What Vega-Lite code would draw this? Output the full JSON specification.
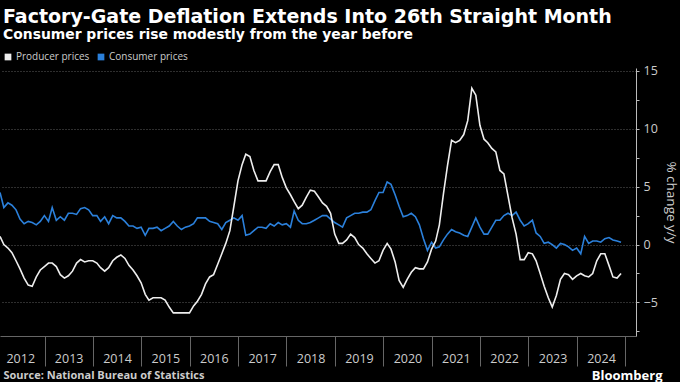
{
"$schema": "https://vega.github.io/schema/vega-lite/v6.json",
"width": 636, "height": 268,
"autosize": {"type": "none"},
"padding": {"left": 0, "top": 68, "right": 44, "bottom": 46},
"background": "#000000",
"title": {"text": "Factory-Gate Deflation Extends Into 26th Straight Month", "subtitle": "Consumer prices rise modestly from the year before", "anchor": "start", "frame": "group", "offset": 10, "dx": 3, "color": "#ffffff", "subtitleColor": "#ffffff", "font": "DejaVu Sans", "fontSize": 19, "fontWeight": "bold", "subtitleFont": "DejaVu Sans", "subtitleFontSize": 13.9, "subtitleFontWeight": "bold", "subtitlePadding": 1},
"data": {"values": [
{"d":"2012-01-31","ppi":0.7,"cpi":4.5},{"d":"2012-02-29","ppi":0.0,"cpi":3.2},{"d":"2012-03-31","ppi":-0.3,"cpi":3.6},{"d":"2012-04-30","ppi":-0.7,"cpi":3.4},{"d":"2012-05-31","ppi":-1.4,"cpi":3.0},{"d":"2012-06-30","ppi":-2.1,"cpi":2.2},{"d":"2012-07-31","ppi":-2.9,"cpi":1.8},{"d":"2012-08-31","ppi":-3.5,"cpi":2.0},{"d":"2012-09-30","ppi":-3.6,"cpi":1.9},{"d":"2012-10-31","ppi":-2.8,"cpi":1.7},{"d":"2012-11-30","ppi":-2.2,"cpi":2.0},{"d":"2012-12-31","ppi":-1.9,"cpi":2.5},
{"d":"2013-01-31","ppi":-1.6,"cpi":2.0},{"d":"2013-02-28","ppi":-1.6,"cpi":3.2},{"d":"2013-03-31","ppi":-1.9,"cpi":2.1},{"d":"2013-04-30","ppi":-2.6,"cpi":2.4},{"d":"2013-05-31","ppi":-2.9,"cpi":2.1},{"d":"2013-06-30","ppi":-2.7,"cpi":2.7},{"d":"2013-07-31","ppi":-2.3,"cpi":2.7},{"d":"2013-08-31","ppi":-1.6,"cpi":2.6},{"d":"2013-09-30","ppi":-1.3,"cpi":3.1},{"d":"2013-10-31","ppi":-1.5,"cpi":3.2},{"d":"2013-11-30","ppi":-1.4,"cpi":3.0},{"d":"2013-12-31","ppi":-1.4,"cpi":2.5},
{"d":"2014-01-31","ppi":-1.6,"cpi":2.5},{"d":"2014-02-28","ppi":-2.0,"cpi":2.0},{"d":"2014-03-31","ppi":-2.3,"cpi":2.4},{"d":"2014-04-30","ppi":-2.0,"cpi":1.8},{"d":"2014-05-31","ppi":-1.4,"cpi":2.5},{"d":"2014-06-30","ppi":-1.1,"cpi":2.3},{"d":"2014-07-31","ppi":-0.9,"cpi":2.3},{"d":"2014-08-31","ppi":-1.2,"cpi":2.0},{"d":"2014-09-30","ppi":-1.8,"cpi":1.6},{"d":"2014-10-31","ppi":-2.2,"cpi":1.6},{"d":"2014-11-30","ppi":-2.7,"cpi":1.4},{"d":"2014-12-31","ppi":-3.3,"cpi":1.5},
{"d":"2015-01-31","ppi":-4.3,"cpi":0.8},{"d":"2015-02-28","ppi":-4.8,"cpi":1.4},{"d":"2015-03-31","ppi":-4.6,"cpi":1.4},{"d":"2015-04-30","ppi":-4.6,"cpi":1.5},{"d":"2015-05-31","ppi":-4.6,"cpi":1.2},{"d":"2015-06-30","ppi":-4.8,"cpi":1.4},{"d":"2015-07-31","ppi":-5.4,"cpi":1.6},{"d":"2015-08-31","ppi":-5.9,"cpi":2.0},{"d":"2015-09-30","ppi":-5.9,"cpi":1.6},{"d":"2015-10-31","ppi":-5.9,"cpi":1.3},{"d":"2015-11-30","ppi":-5.9,"cpi":1.5},{"d":"2015-12-31","ppi":-5.9,"cpi":1.6},
{"d":"2016-01-31","ppi":-5.3,"cpi":1.8},{"d":"2016-02-29","ppi":-4.9,"cpi":2.3},{"d":"2016-03-31","ppi":-4.3,"cpi":2.3},{"d":"2016-04-30","ppi":-3.4,"cpi":2.3},{"d":"2016-05-31","ppi":-2.8,"cpi":2.0},{"d":"2016-06-30","ppi":-2.6,"cpi":1.9},{"d":"2016-07-31","ppi":-1.7,"cpi":1.8},{"d":"2016-08-31","ppi":-0.8,"cpi":1.3},{"d":"2016-09-30","ppi":0.1,"cpi":1.9},{"d":"2016-10-31","ppi":1.2,"cpi":2.1},{"d":"2016-11-30","ppi":3.3,"cpi":2.3},{"d":"2016-12-31","ppi":5.5,"cpi":2.1},
{"d":"2017-01-31","ppi":6.9,"cpi":2.5},{"d":"2017-02-28","ppi":7.8,"cpi":0.8},{"d":"2017-03-31","ppi":7.6,"cpi":0.9},{"d":"2017-04-30","ppi":6.4,"cpi":1.2},{"d":"2017-05-31","ppi":5.5,"cpi":1.5},{"d":"2017-06-30","ppi":5.5,"cpi":1.5},{"d":"2017-07-31","ppi":5.5,"cpi":1.4},{"d":"2017-08-31","ppi":6.3,"cpi":1.8},{"d":"2017-09-30","ppi":6.9,"cpi":1.6},{"d":"2017-10-31","ppi":6.9,"cpi":1.9},{"d":"2017-11-30","ppi":5.8,"cpi":1.7},{"d":"2017-12-31","ppi":4.9,"cpi":1.8},
{"d":"2018-01-31","ppi":4.3,"cpi":1.5},{"d":"2018-02-28","ppi":3.7,"cpi":2.9},{"d":"2018-03-31","ppi":3.1,"cpi":2.1},{"d":"2018-04-30","ppi":3.4,"cpi":1.8},{"d":"2018-05-31","ppi":4.1,"cpi":1.8},{"d":"2018-06-30","ppi":4.7,"cpi":1.9},{"d":"2018-07-31","ppi":4.6,"cpi":2.1},{"d":"2018-08-31","ppi":4.1,"cpi":2.3},{"d":"2018-09-30","ppi":3.6,"cpi":2.5},{"d":"2018-10-31","ppi":3.3,"cpi":2.5},{"d":"2018-11-30","ppi":2.7,"cpi":2.2},{"d":"2018-12-31","ppi":0.9,"cpi":1.9},
{"d":"2019-01-31","ppi":0.1,"cpi":1.7},{"d":"2019-02-28","ppi":0.1,"cpi":1.5},{"d":"2019-03-31","ppi":0.4,"cpi":2.3},{"d":"2019-04-30","ppi":0.9,"cpi":2.5},{"d":"2019-05-31","ppi":0.6,"cpi":2.7},{"d":"2019-06-30","ppi":0.0,"cpi":2.7},{"d":"2019-07-31","ppi":-0.3,"cpi":2.8},{"d":"2019-08-31","ppi":-0.8,"cpi":2.8},{"d":"2019-09-30","ppi":-1.2,"cpi":3.0},{"d":"2019-10-31","ppi":-1.6,"cpi":3.8},{"d":"2019-11-30","ppi":-1.4,"cpi":4.5},{"d":"2019-12-31","ppi":-0.5,"cpi":4.5},
{"d":"2020-01-31","ppi":0.1,"cpi":5.4},{"d":"2020-02-29","ppi":-0.4,"cpi":5.2},{"d":"2020-03-31","ppi":-1.5,"cpi":4.3},{"d":"2020-04-30","ppi":-3.1,"cpi":3.3},{"d":"2020-05-31","ppi":-3.7,"cpi":2.4},{"d":"2020-06-30","ppi":-3.0,"cpi":2.5},{"d":"2020-07-31","ppi":-2.4,"cpi":2.7},{"d":"2020-08-31","ppi":-2.0,"cpi":2.4},{"d":"2020-09-30","ppi":-2.1,"cpi":1.7},{"d":"2020-10-31","ppi":-2.1,"cpi":0.5},{"d":"2020-11-30","ppi":-1.5,"cpi":-0.5},{"d":"2020-12-31","ppi":-0.4,"cpi":0.2},
{"d":"2021-01-31","ppi":0.3,"cpi":-0.3},{"d":"2021-02-28","ppi":1.7,"cpi":-0.2},{"d":"2021-03-31","ppi":4.4,"cpi":0.4},{"d":"2021-04-30","ppi":6.8,"cpi":0.9},{"d":"2021-05-31","ppi":9.0,"cpi":1.3},{"d":"2021-06-30","ppi":8.8,"cpi":1.1},{"d":"2021-07-31","ppi":9.0,"cpi":1.0},{"d":"2021-08-31","ppi":9.5,"cpi":0.8},{"d":"2021-09-30","ppi":10.7,"cpi":0.7},{"d":"2021-10-31","ppi":13.5,"cpi":1.5},{"d":"2021-11-30","ppi":12.9,"cpi":2.3},{"d":"2021-12-31","ppi":10.3,"cpi":1.5},
{"d":"2022-01-31","ppi":9.1,"cpi":0.9},{"d":"2022-02-28","ppi":8.8,"cpi":0.9},{"d":"2022-03-31","ppi":8.3,"cpi":1.5},{"d":"2022-04-30","ppi":8.0,"cpi":2.1},{"d":"2022-05-31","ppi":6.4,"cpi":2.1},{"d":"2022-06-30","ppi":6.1,"cpi":2.5},{"d":"2022-07-31","ppi":4.2,"cpi":2.7},{"d":"2022-08-31","ppi":2.3,"cpi":2.5},{"d":"2022-09-30","ppi":0.9,"cpi":2.8},{"d":"2022-10-31","ppi":-1.3,"cpi":2.1},{"d":"2022-11-30","ppi":-1.3,"cpi":1.6},{"d":"2022-12-31","ppi":-0.7,"cpi":1.8},
{"d":"2023-01-31","ppi":-0.8,"cpi":2.1},{"d":"2023-02-28","ppi":-1.4,"cpi":1.0},{"d":"2023-03-31","ppi":-2.5,"cpi":0.7},{"d":"2023-04-30","ppi":-3.6,"cpi":0.1},{"d":"2023-05-31","ppi":-4.6,"cpi":0.2},{"d":"2023-06-30","ppi":-5.4,"cpi":0.0},{"d":"2023-07-31","ppi":-4.4,"cpi":-0.3},{"d":"2023-08-31","ppi":-3.0,"cpi":0.1},{"d":"2023-09-30","ppi":-2.5,"cpi":0.0},{"d":"2023-10-31","ppi":-2.6,"cpi":-0.2},{"d":"2023-11-30","ppi":-3.0,"cpi":-0.5},{"d":"2023-12-31","ppi":-2.7,"cpi":-0.3},
{"d":"2024-01-31","ppi":-2.5,"cpi":-0.8},{"d":"2024-02-29","ppi":-2.7,"cpi":0.7},{"d":"2024-03-31","ppi":-2.8,"cpi":0.1},{"d":"2024-04-30","ppi":-2.5,"cpi":0.3},{"d":"2024-05-31","ppi":-1.4,"cpi":0.3},{"d":"2024-06-30","ppi":-0.8,"cpi":0.2},{"d":"2024-07-31","ppi":-0.8,"cpi":0.5},{"d":"2024-08-31","ppi":-1.8,"cpi":0.6},{"d":"2024-09-30","ppi":-2.8,"cpi":0.4},{"d":"2024-10-31","ppi":-2.9,"cpi":0.3},{"d":"2024-11-30","ppi":-2.5,"cpi":0.2}
]},
"layer": [
{"mark": {"type": "line", "strokeWidth": 1.6},
 "encoding": {
  "x": {"field": "d", "type": "temporal",
   "scale": {"type": "utc", "domain": [{"year": 2012, "month": 1, "date": 31, "utc": true}, {"year": 2025, "month": 3, "date": 23, "utc": true}]},
   "axis": {"orient": "bottom", "values": [{"year": 2012, "month": 7, "date": 2, "utc": true}, {"year": 2013, "month": 7, "date": 2, "utc": true}, {"year": 2014, "month": 7, "date": 2, "utc": true}, {"year": 2015, "month": 7, "date": 2, "utc": true}, {"year": 2016, "month": 7, "date": 2, "utc": true}, {"year": 2017, "month": 7, "date": 2, "utc": true}, {"year": 2018, "month": 7, "date": 2, "utc": true}, {"year": 2019, "month": 7, "date": 2, "utc": true}, {"year": 2020, "month": 7, "date": 2, "utc": true}, {"year": 2021, "month": 7, "date": 2, "utc": true}, {"year": 2022, "month": 7, "date": 2, "utc": true}, {"year": 2023, "month": 7, "date": 2, "utc": true}, {"year": 2024, "month": 7, "date": 2, "utc": true}],
     "labelExpr": "utcFormat(datum.value, '%Y')", "labelAlign": "center", "labelFlush": false, "labelOverlap": false, "labelBound": false, "labelPadding": 16, "labelColor": "#cccccc", "labelFont": "Open Sans", "labelFontSize": 12.5,
     "ticks": false, "domain": false, "grid": false,
     "title": "Bloomberg", "titleX": 662, "titleY": 43, "titleAlign": "right", "titleBaseline": "alphabetic", "titleColor": "#ffffff", "titleFont": "Open Sans", "titleFontSize": 13, "titleFontWeight": "bold"}},
  "y": {"field": "cpi", "type": "quantitative",
   "scale": {"domain": [-7.9, 15.25], "nice": false, "zero": false},
   "axis": {"orient": "right", "title": "% change y/y", "values": [-7.5, -5, -2.5, 0, 2.5, 5, 7.5, 10, 12.5, 15], "labelExpr": "datum.value % 5 == 0 ? datum.label : ''", "grid": true, "gridColor": "#5c5c5c", "gridDash": [1, 2], "gridOpacity": {"condition": {"test": "datum.value % 5 != 0", "value": 0}, "value": 1}, "domainColor": "#bbbbbb", "tickColor": "#bbbbbb", "tickSize": 3, "labelColor": "#cccccc", "labelFont": "Open Sans", "labelFontSize": 12.5, "labelPadding": 4, "titleColor": "#cccccc", "titleFont": "Open Sans", "titleFontSize": 13.5, "titleFontWeight": "normal", "titlePadding": 6}},
  "color": {"datum": "Consumer prices", "type": "nominal",
   "scale": {"domain": ["Producer prices", "Consumer prices"], "range": ["#eeeeee", "#2b80db"]},
   "legend": {"orient": "none", "legendX": 3, "legendY": -16, "direction": "horizontal", "title": null, "padding": 0, "columnPadding": 6, "labelColor": "#cccccc", "labelFont": "Open Sans", "labelFontSize": 10, "labelOffset": 3,
     "encode": {"symbols": {"update": {"shape": {"value": "square"}, "size": {"value": 45}, "fill": {"scale": "color", "field": "value"}, "strokeWidth": {"value": 0}}}}}}
 }},
{"mark": {"type": "line", "strokeWidth": 1.6},
 "encoding": {
  "x": {"field": "d", "type": "temporal",
   "scale": {"type": "utc", "domain": [{"year": 2012, "month": 1, "date": 31, "utc": true}, {"year": 2025, "month": 3, "date": 23, "utc": true}]},
   "axis": {"orient": "bottom", "values": [{"year": 2013, "month": 1, "date": 1, "utc": true}, {"year": 2014, "month": 1, "date": 1, "utc": true}, {"year": 2015, "month": 1, "date": 1, "utc": true}, {"year": 2016, "month": 1, "date": 1, "utc": true}, {"year": 2017, "month": 1, "date": 1, "utc": true}, {"year": 2018, "month": 1, "date": 1, "utc": true}, {"year": 2019, "month": 1, "date": 1, "utc": true}, {"year": 2020, "month": 1, "date": 1, "utc": true}, {"year": 2021, "month": 1, "date": 1, "utc": true}, {"year": 2022, "month": 1, "date": 1, "utc": true}, {"year": 2023, "month": 1, "date": 1, "utc": true}, {"year": 2024, "month": 1, "date": 1, "utc": true}, {"year": 2025, "month": 1, "date": 1, "utc": true}],
     "labels": false, "tickSize": 30, "tickColor": "#666666", "domainColor": "#666666", "grid": false,
     "title": "Source: National Bureau of Statistics", "titleX": 3, "titleY": 42, "titleAlign": "left", "titleAnchor": "start", "titleBaseline": "alphabetic", "titleColor": "#cccccc", "titleFont": "Open Sans", "titleFontSize": 11, "titleFontWeight": "bold"}},
  "y": {"field": "ppi", "type": "quantitative",
   "scale": {"domain": [-7.9, 15.25], "nice": false, "zero": false},
   "axis": {"orient": "right", "title": "% change y/y", "values": [-7.5, -5, -2.5, 0, 2.5, 5, 7.5, 10, 12.5, 15], "labelExpr": "datum.value % 5 == 0 ? datum.label : ''", "grid": true, "gridColor": "#5c5c5c", "gridDash": [1, 2], "gridOpacity": {"condition": {"test": "datum.value % 5 != 0", "value": 0}, "value": 1}, "domainColor": "#bbbbbb", "tickColor": "#bbbbbb", "tickSize": 3, "labelColor": "#cccccc", "labelFont": "Open Sans", "labelFontSize": 12.5, "labelPadding": 4, "titleColor": "#cccccc", "titleFont": "Open Sans", "titleFontSize": 13.5, "titleFontWeight": "normal", "titlePadding": 6}},
  "color": {"datum": "Producer prices", "type": "nominal",
   "scale": {"domain": ["Producer prices", "Consumer prices"], "range": ["#eeeeee", "#2b80db"]},
   "legend": {"orient": "none", "legendX": 3, "legendY": -16, "direction": "horizontal", "title": null, "padding": 0, "columnPadding": 6, "labelColor": "#cccccc", "labelFont": "Open Sans", "labelFontSize": 10, "labelOffset": 3,
     "encode": {"symbols": {"update": {"shape": {"value": "square"}, "size": {"value": 45}, "fill": {"scale": "color", "field": "value"}, "strokeWidth": {"value": 0}}}}}}
 }}
],
"resolve": {"axis": {"x": "independent"}},
"config": {"view": {"stroke": null}, "font": "Open Sans"}
}
